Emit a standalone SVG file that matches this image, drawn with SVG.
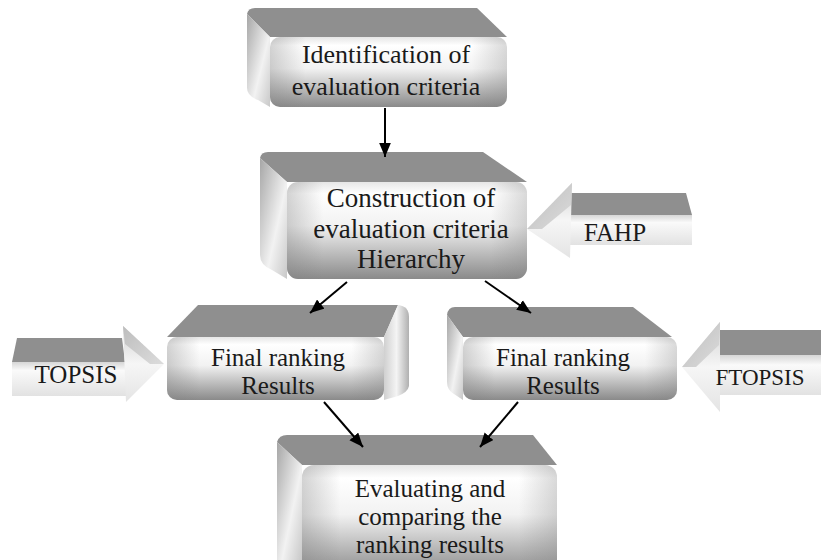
<svg xmlns="http://www.w3.org/2000/svg" width="821" height="560" viewBox="0 0 821 560">
<style>
  .t { font-family: "Liberation Serif", "Times New Roman", serif; fill: #1a1a1a; text-anchor: middle; }
  .top { fill: #8f8f8f; }
  .front { fill: url(#gFront); }
  .frontEdge { fill: url(#gFrontH); }
  .sideL { fill: url(#gSideL); }
  .sideR { fill: url(#gSideR); }
  .shaft { fill: url(#gShaft); }
  .head { fill: url(#gHead); }
  .facet { fill: url(#gFacet); }
  .conn { stroke: #000; stroke-width: 2; fill: none; marker-end: url(#arr); }
</style>
<defs>
  <linearGradient id="gFront" x1="0" y1="0" x2="0" y2="1">
    <stop offset="0" stop-color="#e6e6e6"/>
    <stop offset="0.12" stop-color="#ffffff"/>
    <stop offset="0.45" stop-color="#f2f2f2"/>
    <stop offset="1" stop-color="#8a8a8a"/>
  </linearGradient>
  <linearGradient id="gFrontH" x1="0" y1="0" x2="1" y2="0">
    <stop offset="0" stop-color="#808080" stop-opacity="0.35"/>
    <stop offset="0.15" stop-color="#808080" stop-opacity="0"/>
    <stop offset="0.85" stop-color="#808080" stop-opacity="0"/>
    <stop offset="1" stop-color="#808080" stop-opacity="0.3"/>
  </linearGradient>
  <linearGradient id="gSideL" x1="0" y1="0" x2="1" y2="1">
    <stop offset="0" stop-color="#a6a6a6"/>
    <stop offset="0.6" stop-color="#f2f2f2"/>
    <stop offset="1" stop-color="#c8c8c8"/>
  </linearGradient>
  <linearGradient id="gSideR" x1="0" y1="0" x2="1" y2="0">
    <stop offset="0" stop-color="#d0d0d0"/>
    <stop offset="0.5" stop-color="#f4f4f4"/>
    <stop offset="1" stop-color="#b0b0b0"/>
  </linearGradient>
  <linearGradient id="gShaft" x1="0" y1="0" x2="0" y2="1">
    <stop offset="0" stop-color="#d6d6d6"/>
    <stop offset="0.25" stop-color="#fafafa"/>
    <stop offset="1" stop-color="#e2e2e2"/>
  </linearGradient>
  <linearGradient id="gHead" x1="0" y1="0" x2="0" y2="1">
    <stop offset="0" stop-color="#d0d0d0"/>
    <stop offset="0.5" stop-color="#f6f6f6"/>
    <stop offset="1" stop-color="#e4e4e4"/>
  </linearGradient>
  <linearGradient id="gFacet" x1="0" y1="0" x2="1" y2="1">
    <stop offset="0" stop-color="#bdbdbd"/>
    <stop offset="1" stop-color="#dcdcdc"/>
  </linearGradient>
  <marker id="arr" markerUnits="userSpaceOnUse" viewBox="0 0 12 10" refX="12" refY="5" markerWidth="14" markerHeight="12" orient="auto">
    <path d="M0,0 L12,5 L0,10 z" fill="#000"/>
  </marker>
</defs>

<g id="node-identification">
  <path class="top" d="M255,8 L477,8 L507,37 L270,37 L247,14 Q248,8 255,8 z"/>
  <path class="sideL" d="M247,14 L270,37 L270,107 L258,100 Q247,96 247,88 z"/>
  <rect class="front" x="270" y="37" width="237" height="70" rx="10"/>
  <rect class="frontEdge" x="270" y="37" width="237" height="70" rx="10"/>
  <text class="t" x="386" y="63" font-size="26">Identification of</text>
  <text class="t" x="386" y="95" font-size="26">evaluation criteria</text>
</g>

<g id="node-construction">
  <path class="top" d="M268,152 L483,152 L527,182 L287,182 L260,158 Q261,152 268,152 z"/>
  <path class="sideL" d="M260,158 L287,182 L287,279 L272,270 Q260,265 260,255 z"/>
  <rect class="front" x="287" y="182" width="240" height="97" rx="11"/>
  <rect class="frontEdge" x="287" y="182" width="240" height="97" rx="11"/>
  <text class="t" x="411" y="207" font-size="27">Construction of</text>
  <text class="t" x="411" y="238" font-size="27">evaluation criteria</text>
  <text class="t" x="411" y="268" font-size="27">Hierarchy</text>
</g>

<g id="node-final-left">
  <path class="top" d="M198,305 L398,305 L384,337 L167,337 z"/>
  <path class="sideR" d="M398,305 Q409,306 409,317 L409,386 Q408,392 398,396 L384,400 L384,337 z"/>
  <rect class="front" x="167" y="337" width="217" height="63" rx="10"/>
  <rect class="frontEdge" x="167" y="337" width="217" height="63" rx="10"/>
  <text class="t" x="278" y="366" font-size="25">Final ranking</text>
  <text class="t" x="278" y="394" font-size="25">Results</text>
</g>

<g id="node-final-right">
  <path class="top" d="M455,307 L633,307 L672,337 L463,337 L447,315 Q448,307 455,307 z"/>
  <path class="sideL" d="M447,315 L463,337 L463,400 L454,394 Q447,390 447,382 z"/>
  <rect class="front" x="463" y="337" width="214" height="63" rx="10"/>
  <rect class="frontEdge" x="463" y="337" width="214" height="63" rx="10"/>
  <text class="t" x="563" y="366" font-size="25">Final ranking</text>
  <text class="t" x="563" y="394" font-size="25">Results</text>
</g>

<g id="node-evaluating">
  <path class="top" d="M287,435 L533,435 L557,465 L302,465 L277,442 Q279,435 287,435 z"/>
  <path class="sideL" d="M277,442 L302,465 L302,560 L277,560 z"/>
  <rect class="front" x="302" y="465" width="255" height="110" rx="12"/>
  <rect class="frontEdge" x="302" y="465" width="255" height="110" rx="12"/>
  <text class="t" x="430" y="497" font-size="25">Evaluating and</text>
  <text class="t" x="430" y="525" font-size="25">comparing the</text>
  <text class="t" x="430" y="553" font-size="25">ranking results</text>
</g>

<g id="node-topsis">
  <path class="top" d="M17,338 L122,338 L125,362 L12,362 z"/>
  <rect class="shaft" x="12" y="362" width="115" height="34"/>
  <path class="head" d="M123,326 L164,364 L126,402 z"/>
  <path class="facet" d="M123,326 L164,364 L150,364 L125,344 z"/>
  <text class="t" x="76" y="383" font-size="25">TOPSIS</text>
</g>

<g id="node-fahp">
  <path class="top" d="M570,193 L686,193 L692,215 L570,215 z"/>
  <rect class="shaft" x="568" y="215" width="124" height="30"/>
  <path class="head" d="M572,183 L527,229 L570,258 z"/>
  <path class="facet" d="M572,183 L527,229 L542,229 L571,205 z"/>
  <text class="t" x="615" y="241" font-size="25">FAHP</text>
</g>

<g id="node-ftopsis">
  <path class="top" d="M718,330 L821,330 L821,355 L718,355 z"/>
  <rect class="shaft" x="716" y="355" width="105" height="40"/>
  <path class="head" d="M720,322 L682,367 L720,412 z"/>
  <path class="facet" d="M720,322 L682,367 L696,367 L719,345 z"/>
  <text class="t" x="760" y="385" font-size="23">FTOPSIS</text>
</g>

<g id="connectors">
  <line class="conn" x1="385" y1="108" x2="385" y2="157"/>
  <line class="conn" x1="347" y1="282" x2="310" y2="313"/>
  <line class="conn" x1="485" y1="281" x2="531" y2="313"/>
  <line class="conn" x1="324" y1="402" x2="363" y2="447"/>
  <line class="conn" x1="518" y1="402" x2="480" y2="447"/>
</g>
</svg>
